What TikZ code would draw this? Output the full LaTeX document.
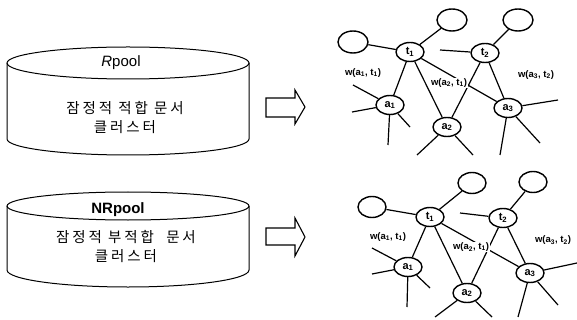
\documentclass[tikz,border=0pt]{standalone}
\usepackage{fontspec}
\setmainfont{Liberation Sans}
\newfontfamily\kr{Noto Sans CJK KR}[LetterSpace=20]
\usetikzlibrary{shapes.geometric}
\newcommand\sub[2]{#1\textsubscript{#2}}
\begin{document}
\begin{tikzpicture}[x=1pt,y=-1pt,
  cyl/.style={line width=1pt},
  blockarrow/.style={line width=1.1pt, line join=miter},
  gnode/.style={ellipse, draw, line width=1.4pt, inner sep=0pt, minimum width=28pt, minimum height=19pt, font=\bfseries\fontsize{11}{11}\selectfont},
  empty/.style={ellipse, draw, line width=1.4pt, inner sep=0pt, minimum width=30pt, minimum height=22pt},
  edge/.style={line width=1.2pt},
  wlab/.style={font=\bfseries\fontsize{9.5}{9.5}\selectfont, inner sep=0pt},
  pooltxt/.style={font=\fontsize{15}{15}\selectfont, inner sep=0pt},
  krtxt/.style={font=\kr\fontsize{14.5}{19}\selectfont, align=center, inner sep=0pt}
]
\useasboundingbox (0,0) rectangle (577,320);

% ---------- top cylinder ----------
\draw[cyl] (128,63) ellipse [x radius=121, y radius=16];
\draw[cyl] (7,63) -- (7,139) arc [start angle=180, end angle=0, x radius=121, y radius=16] -- (249,63);
\node[pooltxt] (rpool) at (121,63) {\textit{R}pool};
\node[krtxt] (rtxt) at (125,118) {잠정적 적합 문서\\클러스터};

% ---------- bottom cylinder ----------
\draw[cyl] (128,206) ellipse [x radius=121, y radius=14];
\draw[cyl] (7,206) -- (7,270) arc [start angle=180, end angle=0, x radius=121, y radius=17] -- (249,206);
\node[pooltxt] (nrpool) at (118,210) {\textbf{NRpool}};
\node[krtxt] (nrtxt) at (126,247) {잠정적 부적합\ \ 문서\\클러스터};

% ---------- block arrows ----------
\draw[blockarrow] (266,98) -- (295,98) -- (295,90) -- (305,107) -- (295,124) -- (295,117) -- (266,117) -- cycle;
\draw[blockarrow] (266,228) -- (295,228) -- (295,218) -- (305,237) -- (295,256) -- (295,245) -- (266,245) -- cycle;

% ---------- top graph ----------
\node[empty] (ua) at (353,42) {};
\node[empty] (ub) at (452,20) {};
\node[empty] (uc) at (518,20) {};
\node[gnode] (ut1) at (410,52) {\sub{t}{1}};
\node[gnode] (ut2) at (485,53) {\sub{t}{2}};
\node[gnode] (ua1) at (390,105) {\sub{a}{1}};
\node[gnode] (ua2) at (447,127) {\sub{a}{2}};
\node[gnode] (ua3) at (508,108) {\sub{a}{3}};
\coordinate (uf0) at (440,50);
\coordinate (uf1) at (353,85);
\coordinate (uf2) at (352,112);
\coordinate (uf3) at (388,145);
\coordinate (uf4) at (410,127);
\coordinate (uf5) at (417,155);
\coordinate (uf6) at (473,155);
\coordinate (uf7) at (558,100);
\coordinate (uf8) at (500,155);
\coordinate (uf9) at (540,143);
\draw[edge] (ua) -- (ut1);
\draw[edge] (ub) -- (ut1);
\draw[edge] (uc) -- (ut2);
\draw[edge] (uf0) -- (ut2);
\draw[edge] (ut1) -- (ua1);
\draw[edge] (ut1) -- (ua2);
\draw[edge] (ut1) -- (ua3);
\draw[edge] (ut2) -- (ua2);
\draw[edge] (ut2) -- (ua3);
\draw[edge] (ua1) -- (uf1);
\draw[edge] (ua1) -- (uf2);
\draw[edge] (ua1) -- (uf3);
\draw[edge] (ua1) -- (uf4);
\draw[edge] (ua2) -- (uf5);
\draw[edge] (ua2) -- (uf6);
\draw[edge] (ua3) -- (uf7);
\draw[edge] (ua3) -- (uf8);
\draw[edge] (ua3) -- (uf9);
\node[wlab] (uw1) at (363,73) {w(\sub{a}{1}, \sub{t}{1})};
\node[wlab, fill=white, inner sep=1pt] (uw2) at (449,83) {w(\sub{a}{2}, \sub{t}{1})};
\node[wlab] (uw3) at (536,75) {w(\sub{a}{3}, \sub{t}{2})};

% ---------- bottom graph ----------
\node[empty, minimum width=28pt, minimum height=21pt] (la) at (372,207) {};
\node[empty, minimum width=28pt, minimum height=21pt] (lb) at (472,183) {};
\node[empty, minimum width=28pt, minimum height=21pt] (lc) at (533,182) {};
\node[gnode] (lt1) at (430,217) {\sub{t}{1}};
\node[gnode] (lt2) at (503,218) {\sub{t}{2}};
\node[gnode] (la1) at (408,267) {\sub{a}{1}};
\node[gnode] (la2) at (467,293) {\sub{a}{2}};
\node[gnode] (la3) at (530,273) {\sub{a}{3}};
\coordinate (lf0) at (460,213);
\coordinate (lf1) at (372,248);
\coordinate (lf2) at (372,274);
\coordinate (lf3) at (407,307);
\coordinate (lf4) at (430,288);
\coordinate (lf5) at (435,317);
\coordinate (lf6) at (492,317);
\coordinate (lf7) at (577,263);
\coordinate (lf8) at (518,317);
\coordinate (lf9) at (558,305);
\draw[edge] (la) -- (lt1);
\draw[edge] (lb) -- (lt1);
\draw[edge] (lc) -- (lt2);
\draw[edge] (lf0) -- (lt2);
\draw[edge] (lt1) -- (la1);
\draw[edge] (lt1) -- (la2);
\draw[edge] (lt1) -- (la3);
\draw[edge] (lt2) -- (la2);
\draw[edge] (lt2) -- (la3);
\draw[edge] (la1) -- (lf1);
\draw[edge] (la1) -- (lf2);
\draw[edge] (la1) -- (lf3);
\draw[edge] (la1) -- (lf4);
\draw[edge] (la2) -- (lf5);
\draw[edge] (la2) -- (lf6);
\draw[edge] (la3) -- (lf7);
\draw[edge] (la3) -- (lf8);
\draw[edge] (la3) -- (lf9);
\node[wlab] (lw1) at (388,237) {w(\sub{a}{1}, \sub{t}{1})};
\node[wlab, fill=white, inner sep=1pt] (lw2) at (471,247) {w(\sub{a}{2}, \sub{t}{1})};
\node[wlab] (lw3) at (553,240) {w(\sub{a}{3}, \sub{t}{2})};
\end{tikzpicture}
\end{document}
